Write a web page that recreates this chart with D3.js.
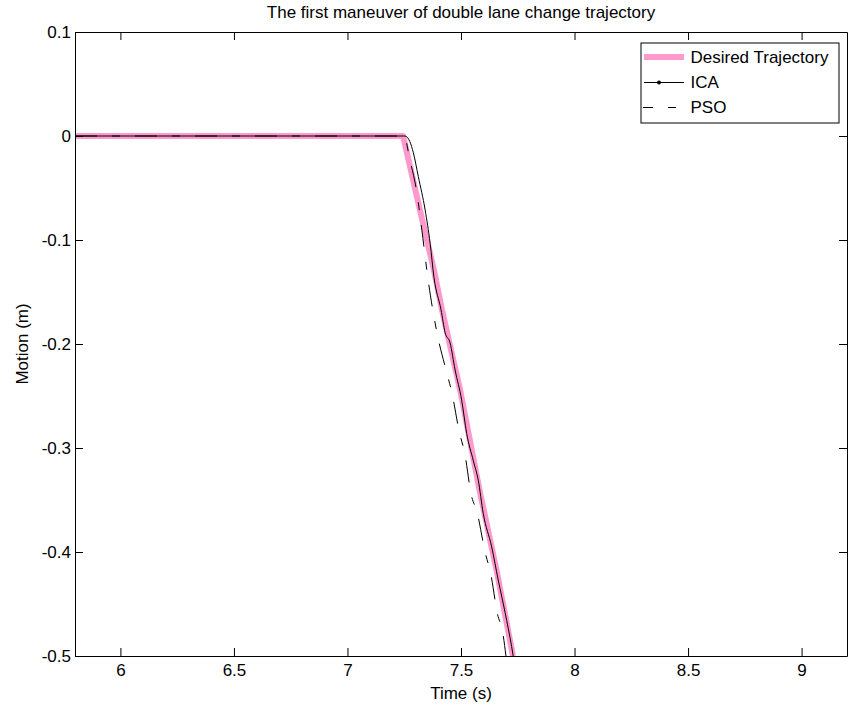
<!DOCTYPE html>
<html>
<head>
<meta charset="utf-8">
<script src="https://cdn.jsdelivr.net/npm/d3@7"></script>
<style>
    body { margin: 0; background: white; }
    text { font-family: "Liberation Sans", Arial, sans-serif; fill: black; }
</style>
</head>
<body>
<div id="chart"></div>
<script>
// values
var titleText = 'The first maneuver of double lane change trajectory';
var xLabel = 'Time (s)';
var yLabel = 'Motion (m)';

var xTicks = [6, 6.5, 7, 7.5, 8, 8.5, 9];
var xTickLabels = ['6', '6.5', '7', '7.5', '8', '8.5', '9'];
var yTicks = [0.1, 0, -0.1, -0.2, -0.3, -0.4, -0.5];
var yTickLabels = ['0.1', '0', '-0.1', '-0.2', '-0.3', '-0.4', '-0.5'];

var seriesNames = ['Desired Trajectory', 'ICA', 'PSO'];

var desiredT = [5.8, 7.245, 7.319, 7.381, 7.416, 7.496, 7.584, 7.659, 7.729];
var desiredY = [0, 0, -0.071, -0.129, -0.167, -0.244, -0.343, -0.420, -0.5];

var icaT = [5.8, 7.253, 7.275, 7.290, 7.312, 7.342, 7.364, 7.381, 7.412, 7.430, 7.452, 7.474, 7.503, 7.525, 7.554, 7.576, 7.598, 7.635, 7.664, 7.694, 7.723, 7.730];
var icaY = [0, 0, -0.0055, -0.016, -0.039, -0.071, -0.103, -0.136, -0.167, -0.189, -0.199, -0.225, -0.254, -0.286, -0.312, -0.331, -0.363, -0.395, -0.427, -0.458, -0.491, -0.5];

var psoT = [5.8, 7.249, 7.275, 7.306, 7.328, 7.355, 7.394, 7.434, 7.460, 7.491, 7.518, 7.544, 7.571, 7.606, 7.632, 7.659, 7.685, 7.698];
var psoY = [0, 0, -0.023, -0.055, -0.091, -0.138, -0.189, -0.225, -0.247, -0.283, -0.307, -0.344, -0.362, -0.400, -0.422, -0.458, -0.479, -0.5];

var width = 851, height = 713;
var margin = {left: 75, top: 32, right: 4, bottom: 57};
var w = width - margin.left - margin.right;
var h = height - margin.top - margin.bottom;
var pink = '#ff99cc';

var svg = d3.select('#chart').append('svg')
    .attr('width', width)
    .attr('height', height);

var x = d3.scaleLinear().domain([5.8, 9.2]).range([0, w]);
var y = d3.scaleLinear().domain([-0.5, 0.1]).range([h, 0]);

var g = svg.append('g').attr('transform', 'translate(' + margin.left + ',' + margin.top + ')');

g.append('clipPath').attr('id', 'clip')
    .append('rect').attr('width', w).attr('height', h);

var line = d3.line().x(d => x(d[0])).y(d => y(d[1]));
var smooth = d3.line().x(d => x(d[0])).y(d => y(d[1])).curve(d3.curveMonotoneX);
var zip = (a, b) => a.map((v, i) => [v, b[i]]);

var plot = g.append('g').attr('clip-path', 'url(#clip)');

plot.append('path').datum(zip(desiredT, desiredY))
    .attr('d', line)
    .attr('fill', 'none')
    .attr('stroke', pink)
    .attr('stroke-width', 6)
    .attr('stroke-linejoin', 'round');

plot.append('path').datum(zip(icaT, icaY))
    .attr('d', smooth)
    .attr('fill', 'none')
    .attr('stroke', 'black')
    .attr('stroke-width', 1);

plot.append('path').datum(zip(psoT, psoY))
    .attr('d', smooth)
    .attr('fill', 'none')
    .attr('stroke', 'black')
    .attr('stroke-width', 1)
    .attr('stroke-dasharray', '22,15,8,15');

// axes box with inward ticks on all four sides
var tl = 8;
var xAxisB = d3.axisBottom(x).tickValues(xTicks).tickSizeInner(-tl).tickSizeOuter(0).tickFormat((d, i) => xTickLabels[i]);
var xAxisT = d3.axisTop(x).tickValues(xTicks).tickSizeInner(-tl).tickSizeOuter(0).tickFormat('');
var yAxisL = d3.axisLeft(y).tickValues(yTicks).tickSizeInner(-tl).tickSizeOuter(0).tickFormat((d, i) => yTickLabels[i]);
var yAxisR = d3.axisRight(y).tickValues(yTicks).tickSizeInner(-tl).tickSizeOuter(0).tickFormat('');

var gx = g.append('g').attr('transform', 'translate(0,' + h + ')').call(xAxisB);
g.append('g').call(xAxisT);
var gy = g.append('g').call(yAxisL);
g.append('g').attr('transform', 'translate(' + w + ',0)').call(yAxisR);

g.selectAll('.domain').attr('stroke', 'black').attr('stroke-width', 1);
g.selectAll('.tick line').attr('stroke', 'black');
g.selectAll('.tick text').attr('font-size', 17).attr('font-family', null);
gx.selectAll('.tick text').attr('y', 8).attr('dy', '0.71em');
gy.selectAll('.tick text').attr('x', -4).attr('dy', '0.35em');

// title and labels
svg.append('text')
    .attr('x', margin.left + w / 2)
    .attr('y', 18)
    .attr('text-anchor', 'middle')
    .attr('font-size', 17)
    .text(titleText);

svg.append('text')
    .attr('x', margin.left + w / 2)
    .attr('y', 699)
    .attr('text-anchor', 'middle')
    .attr('font-size', 17)
    .text(xLabel);

svg.append('text')
    .attr('transform', 'translate(28,' + (margin.top + h / 2) + ') rotate(-90)')
    .attr('text-anchor', 'middle')
    .attr('font-size', 17)
    .text(yLabel);

// legend
var lg = svg.append('g').attr('transform', 'translate(641,43)');
lg.append('rect')
    .attr('width', 198).attr('height', 80)
    .attr('fill', 'white').attr('stroke', 'black').attr('stroke-width', 1);

var rows = [14, 39.5, 64.5];
lg.append('line').attr('x1', 3).attr('x2', 43).attr('y1', rows[0]).attr('y2', rows[0])
    .attr('stroke', pink).attr('stroke-width', 6);
lg.append('line').attr('x1', 3).attr('x2', 43).attr('y1', rows[1]).attr('y2', rows[1])
    .attr('stroke', 'black').attr('stroke-width', 1);
lg.append('circle').attr('cx', 18).attr('cy', rows[1]).attr('r', 2).attr('fill', 'black');
lg.append('line').attr('x1', 2).attr('x2', 43).attr('y1', rows[2]).attr('y2', rows[2])
    .attr('stroke', 'black').attr('stroke-width', 1)
    .attr('stroke-dasharray', '22,15,8,15').attr('stroke-dashoffset', 12);

lg.selectAll('text.lab').data(seriesNames).enter().append('text')
    .attr('class', 'lab')
    .attr('x', 49.5)
    .attr('y', (d, i) => rows[i])
    .attr('dy', '0.35em')
    .attr('font-size', 17)
    .text(d => d);
</script>
</body>
</html>
